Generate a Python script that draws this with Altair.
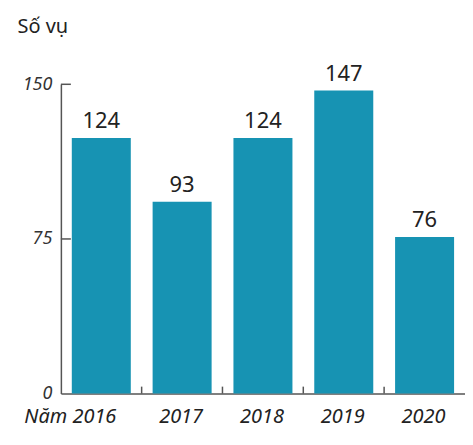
import altair as alt
import pandas as pd

years = ["2016", "2017", "2018", "2019", "2020"]
values = [124, 93, 124, 147, 76]
y_ticks = [0, 75, 150]
y_inner_ticks = [75, 150]
x_inner_ticks = ["2017", "2018", "2019", "2020"]

df = pd.DataFrame({"year": years, "value": values})
df_xt = pd.DataFrame({"year": x_inner_ticks})
df_yt = pd.DataFrame({"value": y_inner_ticks})

W, H = 405, 310
FONT = "Noto Sans"
BAR = "#1793b3"
AXIS = "#555555"

x_scale = alt.Scale(domain=years, paddingInner=0.27, paddingOuter=0.135)
y_scale = alt.Scale(domain=[0, 150], nice=False, zero=True)

bars = alt.Chart(df).mark_bar(color=BAR).encode(
    x=alt.X("year:N", sort=years, scale=x_scale, axis=alt.Axis(
        title=None, orient="bottom", ticks=False, tickSize=0,
        domainColor=AXIS, domainWidth=1.5,
        labelFont=FONT, labelFontSize=20, labelFontStyle="italic", labelColor="#222222",
        labelAngle=0, labelBaseline="alphabetic", labelPadding=29,
        labelExpr="datum.value == '2016' ? 'Năm 2016' : datum.value",
        labelOffset={"condition": {"test": "datum.value == '2016'", "value": -31}, "value": -1},
    )),
    y=alt.Y("value:Q", scale=y_scale, axis=alt.Axis(
        values=y_ticks, title="Số vụ", titleAngle=0, titleX=-44, titleY=-52,
        titleAlign="left", titleBaseline="alphabetic", titleFont=FONT, titleFontSize=20,
        titleFontWeight="normal", titleColor="#222222",
        grid=False, ticks=False, tickSize=0, domainColor=AXIS, domainWidth=1.5,
        labelFont=FONT, labelFontStyle="italic", labelFontSize=18, labelPadding=9,
        labelColor="#333333",
    )),
)

labels = alt.Chart(df).mark_text(font=FONT, fontSize=22, color="#222222", baseline="alphabetic", dy=-10).encode(
    x=alt.X("year:N", sort=years, scale=x_scale),
    y=alt.Y("value:Q", scale=y_scale),
    text="value:Q",
)

x_ticks = alt.Chart(df_xt).mark_rule(color=AXIS, strokeWidth=1.5, xOffset=-11).encode(
    x=alt.X("year:N", sort=years, scale=x_scale, bandPosition=0),
    y=alt.value(H - 7),
    y2=alt.value(H),
)

y_tick_rules = alt.Chart(df_yt).mark_rule(color=AXIS, strokeWidth=1.5).encode(
    y=alt.Y("value:Q", scale=y_scale),
    x=alt.value(0),
    x2=alt.value(10),
)

chart = alt.layer(bars, labels, x_ticks, y_tick_rules).properties(
    width=W, height=H,
    autosize=alt.AutoSizeParams(type="none"),
    padding={"left": 53, "top": 76, "right": 0, "bottom": 35},
).configure_view(stroke=None)

chart.save("out.html", embed_options={"renderer": "svg", "actions": False})
